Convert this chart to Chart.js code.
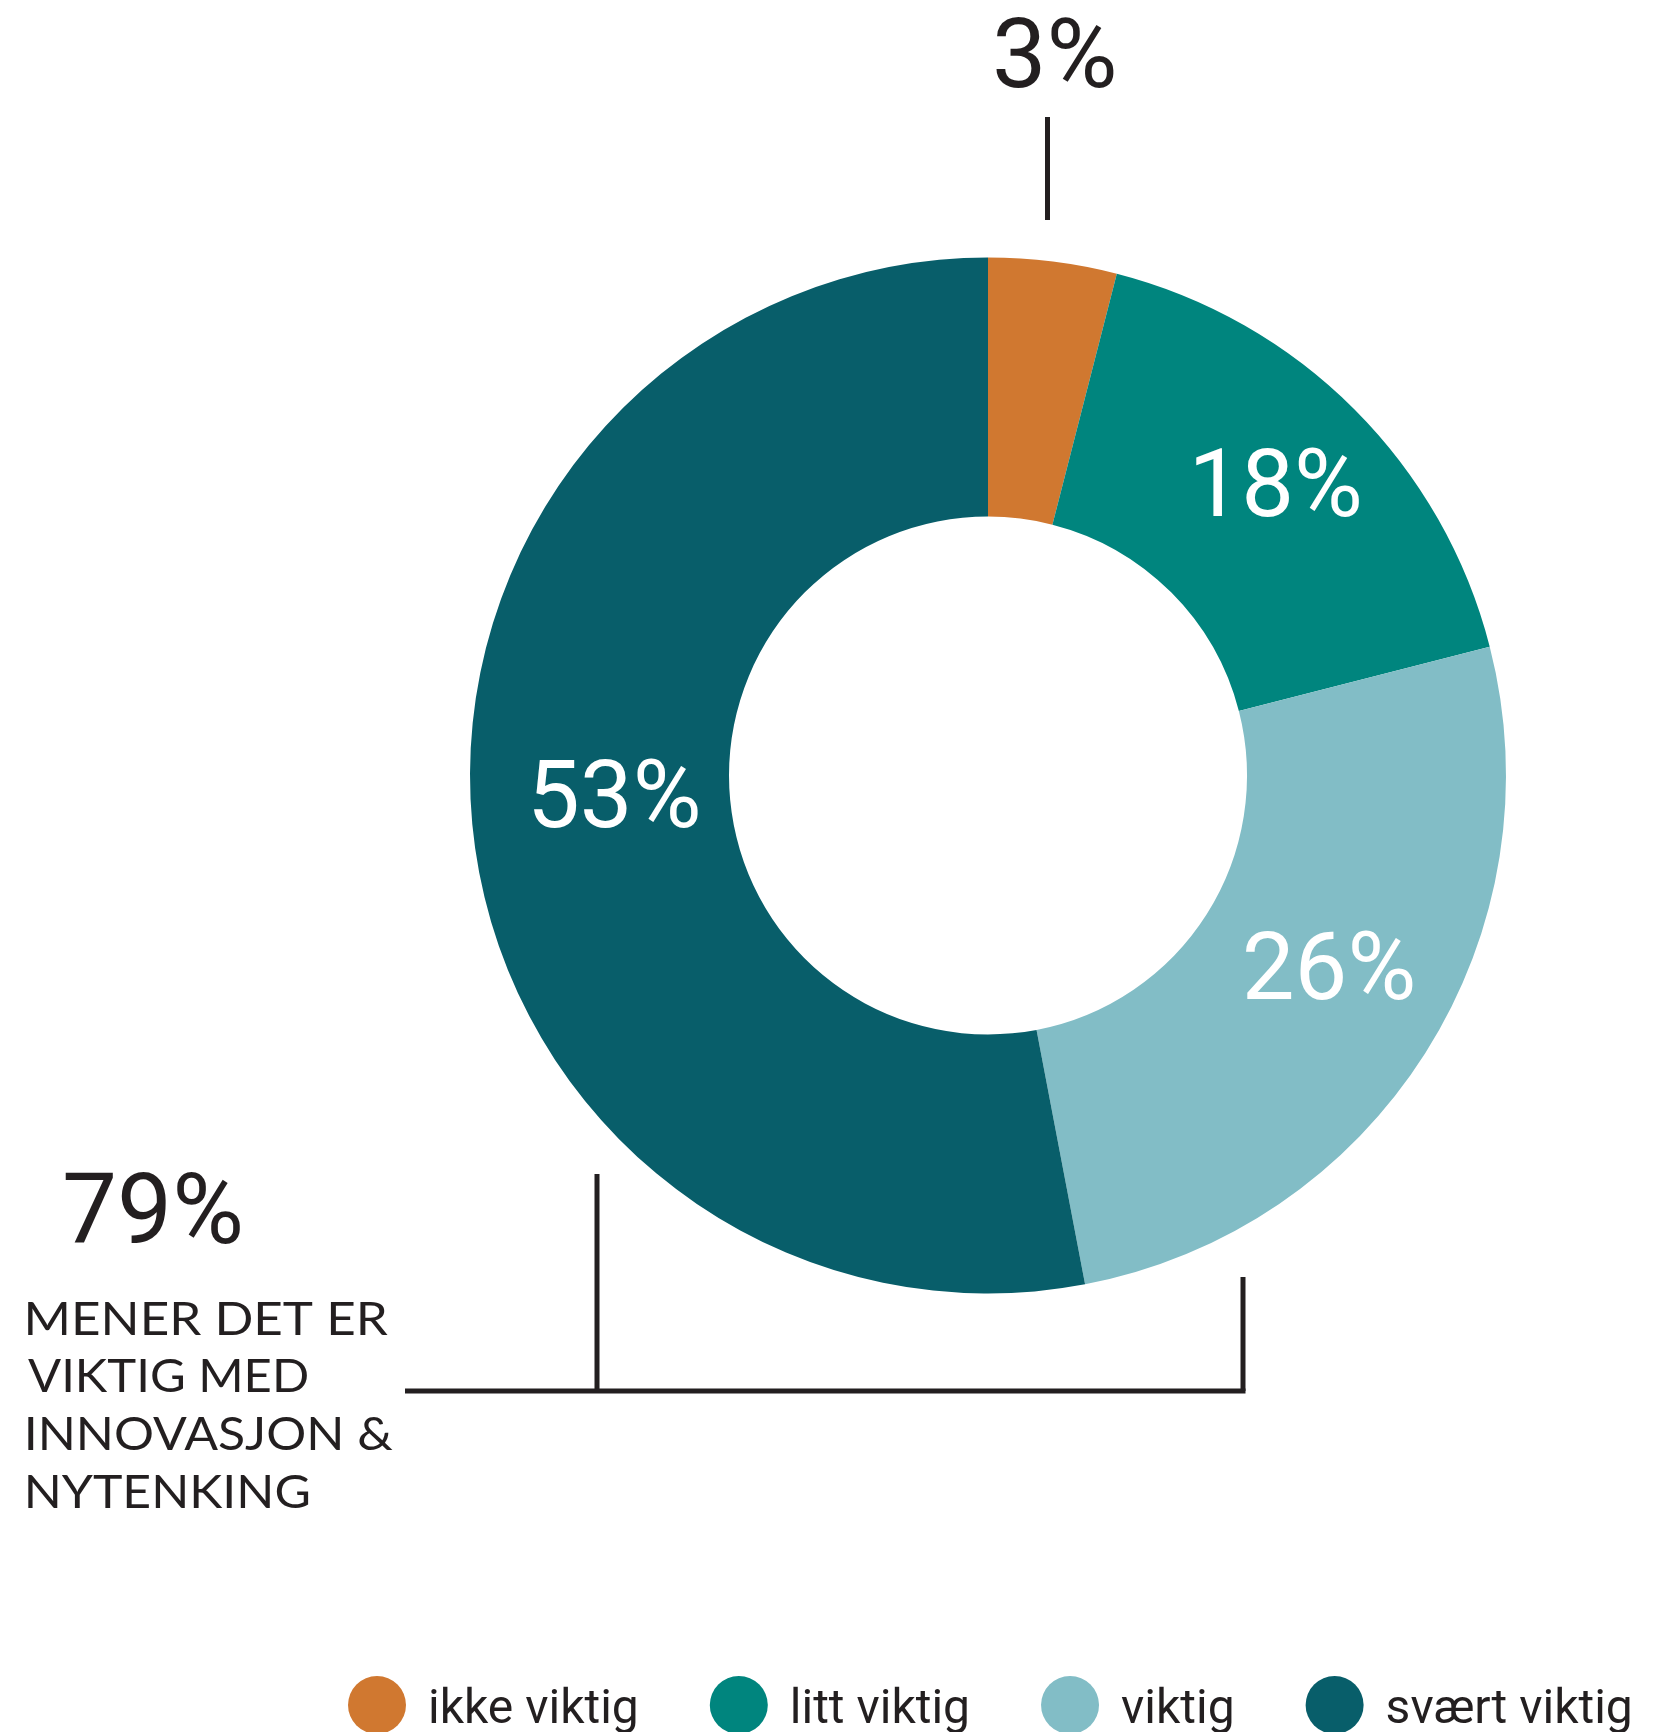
<!DOCTYPE html>
<html>
<head>
<meta charset="utf-8">
<script src="https://cdn.jsdelivr.net/npm/chart.js@4/dist/chart.umd.min.js"></script>
<style>
  html, body { margin: 0; padding: 0; background: #ffffff; }
  #wrap { width: 1661px; height: 1732px; position: relative; }
  canvas { display: block; }
</style>
</head>
<body>
<div id="wrap"><canvas id="c" width="1661" height="1732"></canvas></div>
<script>
// ---- data ----
const categories = ['ikke viktig', 'litt viktig', 'viktig', 'svært viktig'];
const shares = [4, 17, 26, 53];
const shareLabels = ['3%', '18%', '26%', '53%'];
const sliceColors = ['#D07830', '#00857E', '#82BDC6', '#085E6A'];
const highlightValue = '79%';
const highlightLines = ['MENER DET ER', 'VIKTIG MED', 'INNOVASJON &', 'NYTENKING'];

const INK = '#231F20';

const annotationPlugin = {
  id: 'annotations',
  afterDraw(chart) {
    const ctx = chart.ctx;
    const meta = chart.getDatasetMeta(0);
    ctx.save();

    // inner labels (all but the small first slice)
    ctx.fillStyle = '#ffffff';
    ctx.font = '400 94px Roboto';
    ctx.textAlign = 'center';
    ctx.textBaseline = 'alphabetic';
    meta.data.forEach((arc, i) => {
      if (i === 0) return;
      const p = arc.tooltipPosition();
      ctx.fillText(shareLabels[i], p.x + 13, p.y + 15);
    });

    // outside label for the small slice
    ctx.fillStyle = INK;
    ctx.font = '400 97px Roboto';
    ctx.textAlign = 'left';
    ctx.fillText(shareLabels[0], 992, 87);

    ctx.strokeStyle = INK;
    ctx.lineWidth = 5;
    ctx.lineCap = 'butt';
    ctx.beginPath();
    ctx.moveTo(1047.5, 117);
    ctx.lineTo(1047.5, 220);
    ctx.stroke();

    // bracket
    ctx.beginPath();
    ctx.moveTo(597, 1174);
    ctx.lineTo(597, 1391);
    ctx.stroke();
    ctx.beginPath();
    ctx.moveTo(1243, 1277);
    ctx.lineTo(1243, 1391);
    ctx.stroke();
    ctx.beginPath();
    ctx.moveTo(405, 1391);
    ctx.lineTo(1245.5, 1391);
    ctx.stroke();

    // highlight number
    ctx.font = '400 98px Roboto';
    ctx.fillText(highlightValue, 62, 1243);

    // highlight text, fitted to widths
    const lineTargets = [360, 279, 365, 280];
    const baselines = [1335, 1392, 1450, 1508];
    ctx.font = '400 46px Lato';
    highlightLines.forEach((t, i) => {
      const m = ctx.measureText(t);
      const w = m.actualBoundingBoxRight + m.actualBoundingBoxLeft;
      const sx = lineTargets[i] / w;
      ctx.save();
      ctx.translate(28, baselines[i]);
      ctx.scale(sx, 1);
      ctx.fillText(t, m.actualBoundingBoxLeft, 0);
      ctx.restore();
    });

    // legend
    ctx.font = '400 48px Roboto';
    let x = 348;
    const cy = 1705;
    const r = 29;
    categories.forEach((lab, i) => {
      ctx.fillStyle = sliceColors[i];
      ctx.beginPath();
      ctx.arc(x + r, cy, r, 0, Math.PI * 2);
      ctx.fill();
      x += 2 * r + 22;
      ctx.fillStyle = INK;
      ctx.fillText(lab, x, 1723);
      x += ctx.measureText(lab).width + 71;
    });

    ctx.restore();
  }
};

new Chart(document.getElementById('c'), {
  type: 'doughnut',
  data: {
    labels: categories,
    datasets: [{
      data: shares,
      backgroundColor: sliceColors,
      borderWidth: 0,
      hoverOffset: 0
    }]
  },
  options: {
    responsive: false,
    devicePixelRatio: 1,
    animation: false,
    cutout: '50%',
    layout: { padding: { left: 470, right: 155, top: 257, bottom: 438 } },
    plugins: {
      legend: { display: false },
      tooltip: { enabled: false }
    },
    events: []
  },
  plugins: [annotationPlugin]
});
</script>
</body>
</html>
